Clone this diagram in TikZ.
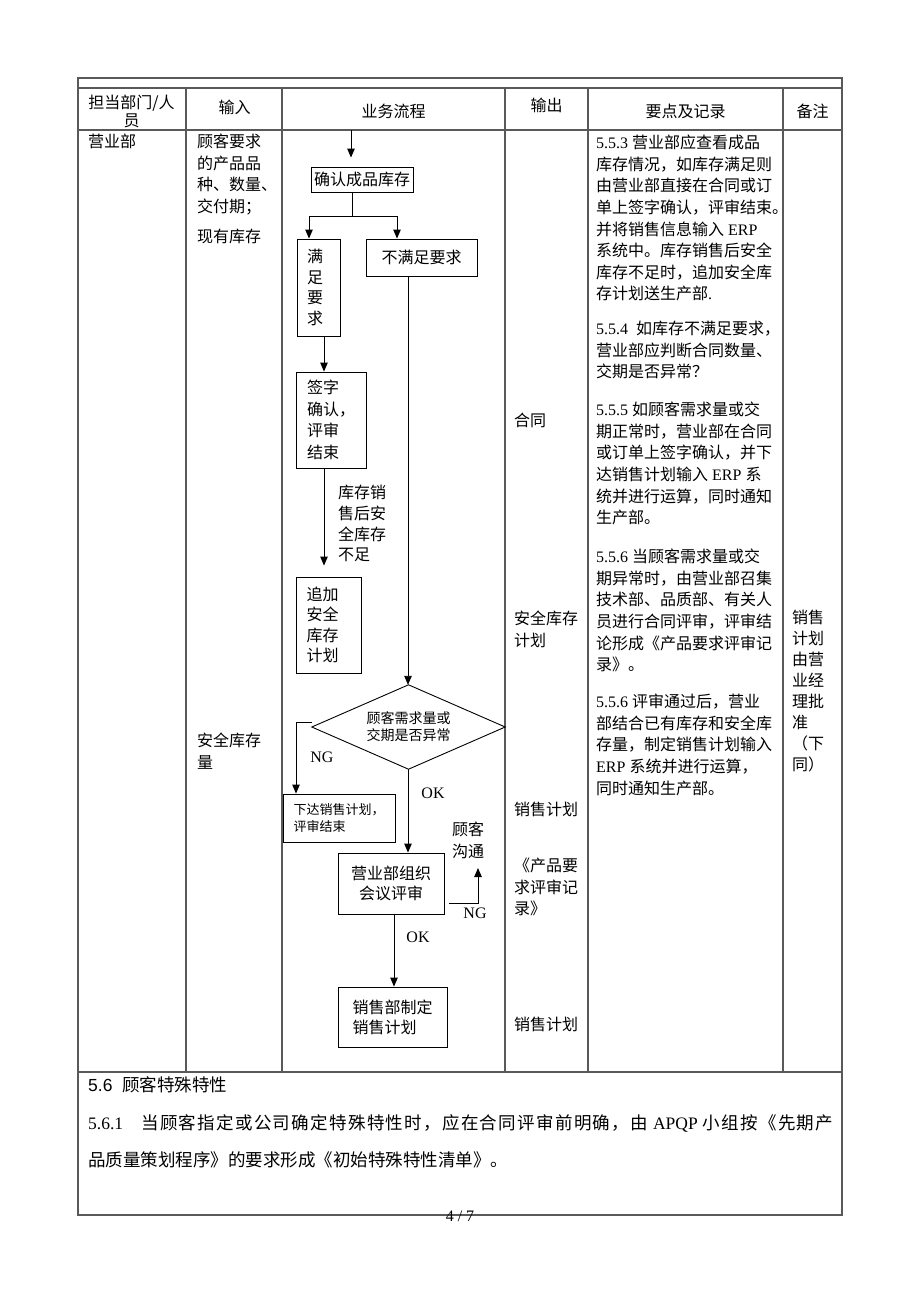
\documentclass[tikz,border=0pt]{standalone}
\usepackage{fontspec}
\setmainfont{Noto Sans CJK SC}
\newfontfamily\lat{Liberation Serif}
\newfontfamily\ars{Liberation Sans}
\usetikzlibrary{arrows.meta}
\definecolor{gridc}{gray}{0.35}
\newcommand\fs[2]{\fontsize{#1}{#2}\selectfont}
\makeatletter
\count@="4E00
\loop \XeTeXcharclass\count@=1 \advance\count@ by 1 \ifnum\count@<"A000 \repeat
\XeTeXcharclass"FF0C=3 \XeTeXcharclass"3001=3 \XeTeXcharclass"3002=3
\XeTeXcharclass"300B=3 \XeTeXcharclass"FF1B=3 \XeTeXcharclass"300A=2
\makeatother
\newcommand\spreadbox[2]{\makebox[#1][s]{\XeTeXinterchartokenstate=1
 \XeTeXinterchartoks 1 1={\hskip0pt plus 1fil}%
 \XeTeXinterchartoks 1 2={\hskip0pt plus 1fil}%
 \XeTeXinterchartoks 1 3={\hskip0pt plus 1fil}%
 \XeTeXinterchartoks 3 1={\hskip0pt plus 1fil}%
 \XeTeXinterchartoks 2 1={\hskip0pt plus 1fil}%
 \XeTeXinterchartoks 3 2={\hskip0pt plus 1fil}%
 #2}}
\tikzset{
 tline/.style={draw=gridc, line width=1.1pt},
 fline/.style={draw=black, line width=0.9pt},
 arr/.style={fline, -{Triangle[length=9pt,width=7.5pt]}},
 txt/.style={anchor=north west, inner sep=0pt, align=left, font=\fs{16}{21.6}},
 ctxt/.style={inner sep=0pt, align=center, font=\fs{16}{18}},
 flowbox/.style={draw=black, line width=0.9pt, inner sep=0pt, font=\fs{16}{21.5}},
 lab/.style={inner sep=0pt, font=\lat\fs{16}{16}},
}
\begin{document}
\begin{tikzpicture}[x=1pt,y=-1pt]
\useasboundingbox (0,0) rectangle (920,1302);
\fill[white] (0,0) rectangle (920,1302);

% ---------- table ----------
\draw[tline] (78,78) rectangle (842,1215);
\draw[tline] (78,88) -- (842,88);
\draw[tline] (78,130) -- (842,130);
\draw[tline] (78,1072) -- (842,1072);
\foreach \x in {186,282,505,588,783} \draw[tline] (\x,88) -- (\x,1072);

% header
\node[ctxt] (h1) at (131.5,111) {担当部门/人\\员};
\node[ctxt] (h2) at (234.5,107) {输入};
\node[ctxt] (h3) at (393.5,111) {业务流程};
\node[ctxt] (h4) at (546.5,105) {输出};
\node[ctxt] (h5) at (685.5,111) {要点及记录};
\node[ctxt] (h6) at (812.5,111) {备注};

% dept / input
\node[txt] (dept) at (88,134) {营业部};
\node[txt] (in1) at (197,134) {顾客要求\\的产品品\\种、数量、\\交付期；};
\node[txt] (in2) at (197,229) {现有库存};
\node[txt] (in3) at (197,733) {安全库存\\量};

% output
\node[txt] (o1) at (514,413) {合同};
\node[txt] (o2) at (514,611) {安全库存\\计划};
\node[txt] (o3) at (514,802) {销售计划};
\node[txt] (o4) at (514,858) {《产品要\\求评审记\\录》};
\node[txt] (o5) at (514,1017) {销售计划};

% notes
\node[txt] (k1) at (596,135) {{\lat 5.5.3 }营业部应查看成品\\库存情况，如库存满足则\\由营业部直接在合同或订\\单上签字确认，评审结束。\\并将销售信息输入{\lat\ ERP}\\系统中。库存销售后安全\\库存不足时，追加安全库\\存计划送生产部{\lat .}};
\node[txt] (k2) at (596,321) {{\lat 5.5.4\ \ }如库存不满足要求，\\营业部应判断合同数量、\\交期是否异常？};
\node[txt] (k3) at (596,402) {{\lat 5.5.5 }如顾客需求量或交\\期正常时，营业部在合同\\或订单上签字确认，并下\\达销售计划输入{\lat\ ERP }系\\统并进行运算，同时通知\\生产部。};
\node[txt] (k4) at (596,549) {{\lat 5.5.6 }当顾客需求量或交\\期异常时，由营业部召集\\技术部、品质部、有关人\\员进行合同评审，评审结\\论形成《产品要求评审记\\录》。};
\node[txt] (k5) at (596,694) {{\lat 5.5.6 }评审通过后，营业\\部结合已有库存和安全库\\存量，制定销售计划输入\\{\lat ERP }系统并进行运算，\\同时通知生产部。};

% remarks
\node[txt, font=\fs{16}{21}] (r1) at (792,610) {销售\\计划\\由营\\业经\\理批\\准\\（下\\同）};

% ---------- flow ----------
\coordinate (top) at (351,130);
\node[flowbox, minimum width=102, minimum height=25] (b1) at (362,179.5) {确认成品库存};
\draw[arr, shorten >=9pt] (top) -- (top |- b1.north);
\coordinate (sp) at (352,216);
\coordinate (spL) at (309,216);
\coordinate (spR) at (397,216);
\draw[fline] (sp |- b1.south) -- (sp);
\draw[fline] (spL) -- (spR);

\node[flowbox, minimum width=43, minimum height=97, text width=23pt, align=left, font=\fs{16}{20.7}] (sat) at (318.5,287.5) {满\\足\\要\\求};
\node[flowbox, minimum width=111, minimum height=37] (ns) at (421.5,257.5) {不满足要求};
\draw[arr] (spL) -- (spL |- sat.north);
\draw[arr] (spR) -- (spR |- ns.north);

\node[flowbox, minimum width=70, minimum height=96, text width=48pt, align=left] (sign) at (331,420) {签字\\确认，\\评审\\结束};
\coordinate (c1) at (324,0);
\draw[arr] (c1 |- sat.south) -- (c1 |- sign.north);

\node[flowbox, minimum width=65, minimum height=96, text width=44pt, align=left, font=\fs{16}{20.3}] (add) at (328.5,625) {追加\\安全\\库存\\计划};
\draw[arr, shorten >=11pt] (c1 |- sign.south) -- (c1 |- add.north);
\node[txt, font=\fs{16}{20.7}] (lbl1) at (338,485) {库存销\\售后安\\全库存\\不足};

% decision
\node[inner sep=0pt, minimum width=193, minimum height=84, align=center, font=\fs{14}{17}] (dia) at (408.5,727) {顾客需求量或\\交期是否异常};
\draw[fline] (dia.north) -- (dia.east) -- (dia.south) -- (dia.west) -- cycle;
\coordinate (c2) at (408,0);
\draw[arr] (c2 |- ns.south) -- (c2 |- dia.north);

\node[flowbox, minimum width=112, minimum height=48, text width=91pt, align=left, font=\fs{13}{17}] (ngb) at (339,818) {下达销售计划，\\评审结束};
\coordinate (c3) at (296,0);
\draw[arr] ([yshift=5pt]dia.west) -| (c3 |- ngb.north);
\node[lab] (ng1) at (322,757) {NG};
\node[lab] (ok1) at (433,793) {OK};

\node[flowbox, minimum width=106, minimum height=61, align=center, font=\fs{16}{20}] (rev) at (391,883.5) {营业部组织\\会议评审};
\draw[arr] (c2 |- dia.south) -- (c2 |- rev.north);
\coordinate (nga) at (449,903);
\coordinate (ngt) at (478,868);
\draw[arr] (nga) -| (ngt);
\node[txt, font=\fs{16}{22}] (cc) at (452,822) {顾客\\沟通};
\node[lab] (ng2) at (475,913) {NG};
\node[lab] (ok2) at (418,937) {OK};

\node[flowbox, minimum width=109, minimum height=60, text width=80pt, align=left, font=\fs{16}{20}] (plan) at (392.5,1017) {销售部制定\\销售计划};
\coordinate (c4) at (394,0);
\draw[arr] (c4 |- rev.south) -- (c4 |- plan.north);

% ---------- bottom ----------
\node[anchor=west, inner sep=0pt, font=\fs{17.5}{20}] (s56) at (88,1085) {{\ars 5.6\ \ }顾客特殊特性};
\node[anchor=north west, inner sep=0pt, font=\fs{17.5}{20}] (p561) at (88,1114) {\spreadbox{745pt}{{\lat 5.6.1}\hspace{18pt}当顾客指定或公司确定特殊特性时，应在合同评审前明确，由{\lat\hspace{5pt}APQP\hspace{5pt}}小组按《先期产}};
\node[anchor=north west, inner sep=0pt, font=\fs{17.5}{20}] (p562) at (88,1151) {品质量策划程序》的要求形成《初始特殊特性清单》。};
\node[lab] (pg) at (460,1216) {4 / 7};
\end{tikzpicture}
\end{document}
